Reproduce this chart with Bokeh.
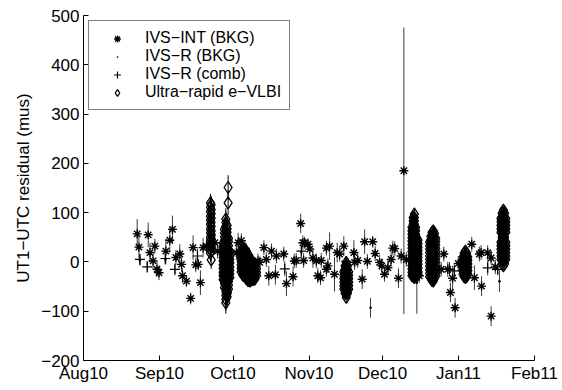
import pandas as pd
from bokeh.plotting import figure
from bokeh.models import Range1d, FixedTicker, Legend, LegendItem, ColumnDataSource, DatetimeTickFormatter
from bokeh.embed import file_html
from bokeh.resources import INLINE

# All "day" values are days counted from this date
BASE_DATE = "2010-08-01"

# ---- IVS-INT (BKG) ----
int_day = [21.9, 22.6, 26.4, 27.1, 29.1, 28.4, 30.0, 30.8, 33.6, 35.2, 36.3, 37.7, 39.3, 40.0, 40.4,
           42.0, 43.7, 44.7, 45.8, 46.8, 47.7, 48.8, 50.2, 53.6, 54.7, 58.7, 62.4, 63.1, 64.4, 66.5,
           71.2, 71.9, 73.6, 74.6, 75.6, 76.7, 78.3, 78.7, 81.7, 82.8, 85.5, 86.0, 86.8, 88.6, 89.5,
           89.8, 90.2, 91.6, 92.3, 93.6, 95.0, 95.6, 96.7, 97.0, 99.1, 100.4, 99.1, 99.7, 102.4, 103.5,
           104.5, 106.2, 110.3, 110.6, 111.9, 113.7, 114.7, 115.8, 118.0, 119.0, 120.8, 121.7, 122.8, 124.2, 125.5,
           126.2, 127.0, 128.5, 129.6, 130.7, 131.7, 134.7, 137.0, 145.9, 147.0, 148.6, 149.7, 150.6, 151.6,
           152.9, 158.4, 159.5, 161.5, 162.2, 162.4, 164.9, 166.3, 166.3, 168.0]
int_val = [57, 30, 55, 19, 32, 2, -15, -22, 22, 44, 66, 9, 16, -5, -28,
           -39, -74, 29, -6, -5, -42, 29, 32, 39, 22, -62, 19, 39, 43, 22,
           2, -1, 29, 5, -28, 22, -26, 12, 16, -44, -30, 2, 3, 78, 39,
           3, 39, 36, 26, 8, 2, -28, -32, 3, 28, 32, -15, -8, -25, 19,
           16, 32, 19, -1, 3, -35, 41, 1, 41, 17, -1, -8, -25, -12, 5,
           28, 27, -33, 12, 185, 5, -25, -28, -15, 16, -15, -62, -33, -93,
           -3, 36, -32, 16, 19, -49, 19, 8, -110, -10]
int_err = [30, 22, 25, 20, 15, 15, 15, 15, 25, 25, 28, 15, 20, 15, 15,
           12, 12, 25, 15, 12, 25, 20, 15, 20, 15, 20, 15, 20, 15, 15,
           15, 12, 15, 15, 20, 15, 20, 15, 15, 25, 20, 15, 15, 20, 15,
           15, 12, 12, 12, 20, 15, 15, 15, 15, 15, 28, 15, 15, 35, 20,
           15, 20, 25, 15, 15, 20, 25, 15, 12, 15, 15, 15, 15, 15, 15,
           15, 15, 20, 15, 291, 15, 15, 15, 15, 15, 15, 20, 25, 20,
           15, 15, 25, 15, 15, 20, 15, 15, 20, 15]

# ---- IVS-R (BKG) ----
rbkg_day = [23.0, 33.4, 88.9, 107.2, 117.1, 136.0, 149.3, 169.7]
rbkg_val = [3, 5, 20, -2, -93, -42, -13, -39]
rbkg_err = [10, 10, 12, 10, 20, 63, 12, 22]

# ---- IVS-R (comb) ----
rcomb_day = [23.0, 26.0, 33.4, 37.3, 46.5, 82.1, 88.9, 107.2, 149.3, 151.3, 164.9, 169.0]
rcomb_val = [5, -10, 7, -15, 12, -14, 22, 1, -15, -18, -12, -15]
rcomb_err = [12, 12, 12, 12, 15, 15, 15, 10, 15, 15, 15, 12]

# ---- Ultra-rapid e-VLBI: one entry per session, grouped in columns of (day, [values]) ----
ur1_days = [51.8, 52.1]
ur1_vals = [[120, 111, 102, 93, 85, 76, 67, 59, 50, 42, 34, 26, 18],
            [116, 106, 98, 89, 80, 72, 63, 55, 46, 38, 30, 22, 4]]
ur1_err = 18

ur2_days = [59.0]
ur2_vals = [[151, 120]]
ur2_err = 25

ur3_days = [56.95, 57.5, 58.05, 58.6, 59.15, 59.7]
ur3_vals = [[38, 31, 23, 16, 9, 2, -6, -13, -21, -28, -36],
            [66, 59, 51, 44, 37, 30, 22, 15, 8, 0, -7, -15, -22, -29, -37, -44, -52],
            [87, 80, 72, 63, 57, 49, 42, 35, 27, 20, 13, 5, -2, -9, -17, -24, -31, -39, -46, -54, -61, -68, -76, -83],
            [74, 67, 60, 52, 45, 38, 31, 23, 16, 9, 1, -6, -13, -21, -28, -35, -43, -50, -57, -65, -71],
            [48, 41, 33, 26, 19, 11, 4, -3, -11, -18, -25, -33, -40, -47, -55],
            [20, 12, 5, -2, -10, -17, -24, -32]]
ur3_err = 22

ur4_days = [64.3, 65.0, 65.7, 66.4, 67.1, 67.8, 68.5, 69.2, 69.9, 70.6]
ur4_vals = [[22, 15, 8, 1, -6, -13, -20],
            [29, 22, 15, 8, 1, -6, -13, -20, -27],
            [27, 20, 13, 6, -1, -8, -15, -22, -29],
            [22, 15, 8, 1, -6, -13, -20, -27, -34],
            [16, 9, 2, -5, -12, -19, -26, -33, -38],
            [10, 3, -4, -11, -18, -25, -32, -39],
            [4, -3, -10, -17, -24, -31, -37],
            [-2, -9, -16, -23, -30, -36],
            [-8, -15, -22, -29, -35],
            [-14, -21, -28]]
ur4_err = 12

ur5_days = [106.2, 106.7, 107.2, 107.7, 108.2]
ur5_vals = [[-20, -27, -34, -41, -48, -55],
            [-8, -15, -22, -29, -36, -43, -50, -57, -64],
            [-1, -8, -15, -22, -29, -36, -43, -50, -57, -64, -72],
            [-8, -15, -22, -29, -36, -43, -50, -57, -64],
            [-20, -27, -34, -41, -48, -55]]
ur5_err = 10

ur6_days = [134.0, 134.5, 135.0, 135.5, 136.0, 136.5]
ur6_vals = [[70, 63, 56, 49, 42, 35, 28, 21, 14, 7, 0, -7, -14, -21, -28],
            [90, 83, 76, 69, 62, 55, 48, 41, 34, 27, 20, 13, 6, -1, -8, -15, -22, -29],
            [97, 90, 83, 76, 69, 62, 55, 48, 41, 34, 27, 20, 13, 6, -1, -8, -15, -22, -29, -32],
            [70, 63, 56, 49, 42, 35, 28, 21, 14, 7, 0, -7, -14, -21, -28],
            [49, 42, 35, 28, 21, 14, 7, 0, -7, -14, -21, -28],
            [44, 37, 30, 23, 16, 9, 2, -5, -12, -19, -26]]
ur6_err = 13

ur7_days = [141.2, 141.7, 142.2, 142.7, 143.2, 143.7]
ur7_vals = [[40, 33, 26, 19, 12, 5, -2, -9, -16, -23, -30],
            [52, 45, 38, 31, 24, 17, 10, 3, -4, -11, -18, -25, -32],
            [60, 53, 46, 39, 32, 25, 18, 11, 4, -3, -10, -17, -24, -31, -38],
            [63, 56, 49, 42, 35, 28, 21, 14, 7, 0, -7, -14, -21, -28, -35, -39],
            [58, 51, 44, 37, 30, 23, 16, 9, 2, -5, -12, -19, -26, -33],
            [48, 41, 34, 27, 20, 13, 6, -1, -8, -15, -22, -29]]
ur7_err = 11

ur8_days = [154.8, 155.3, 155.8, 156.3, 156.8]
ur8_vals = [[10, 3, -4, -11, -18, -25],
            [18, 11, 4, -3, -10, -17, -24, -30],
            [22, 15, 8, 1, -6, -13, -20, -27, -32],
            [18, 11, 4, -3, -10, -17, -24, -30],
            [10, 3, -4, -11, -18, -25]]
ur8_err = 9

ur9_days = [170.3, 170.8, 171.3, 171.8, 172.3]
ur9_vals = [[88, 81, 74, 67, 60, 40, 33, 26, 19, 12, 5],
            [99, 92, 85, 78, 71, 64, 57, 50, 44, 37, 30, 23, 16, 9, 2, -4],
            [105, 98, 91, 84, 77, 70, 63, 56, 50, 43, 36, 29, 22, 15, 8, 1, -8],
            [99, 92, 85, 78, 71, 64, 57, 50, 44, 37, 30, 23, 16, 9, 2, -4],
            [88, 81, 74, 67, 60, 40, 33, 26, 19, 12, 5]]
ur9_err = 9

ur_sessions = [(ur1_days, ur1_vals, ur1_err), (ur2_days, ur2_vals, ur2_err), (ur3_days, ur3_vals, ur3_err),
               (ur4_days, ur4_vals, ur4_err), (ur5_days, ur5_vals, ur5_err), (ur6_days, ur6_vals, ur6_err),
               (ur7_days, ur7_vals, ur7_err), (ur8_days, ur8_vals, ur8_err), (ur9_days, ur9_vals, ur9_err)]

# ---- axes ----
month_ticks = ["2010-08-01", "2010-09-01", "2010-10-01", "2010-11-01", "2010-12-01", "2011-01-01", "2011-02-01"]
month_labels = ["Aug10", "Sep10", "Oct10", "Nov10", "Dec10", "Jan11", "Feb11"]
y_ticks = [-200, -100, 0, 100, 200, 300, 400, 500]
y_labels = ["\u2212200", "\u2212100", "0", "100", "200", "300", "400", "500"]
y_title = "UT1\u2212UTC residual (mus)"
legend_labels = ["IVS\u2212INT (BKG)", "IVS\u2212R (BKG)", "IVS\u2212R (comb)", "Ultra\u2212rapid e\u2212VLBI"]

FONT = "Liberation Sans"
FS = "17px"

base = pd.Timestamp(BASE_DATE)


def make_source(days, vals, errs):
    xs = [base + pd.Timedelta(days=d) for d in days]
    lo = [v - e for v, e in zip(vals, errs)]
    hi = [v + e for v, e in zip(vals, errs)]
    return ColumnDataSource(dict(x=xs, y=vals, lo=lo, hi=hi))


src_int = make_source(int_day, int_val, int_err)
src_rbkg = make_source(rbkg_day, rbkg_val, rbkg_err)
src_rcomb = make_source(rcomb_day, rcomb_val, rcomb_err)

ur_day, ur_val, ur_err = [], [], []
for days, cols, err in ur_sessions:
    for d, col in zip(days, cols):
        for v in col:
            ur_day.append(d)
            ur_val.append(v)
            ur_err.append(err)
src_ur = make_source(ur_day, ur_val, ur_err)

p = figure(frame_width=451, frame_height=345, x_axis_type="datetime",
           x_range=Range1d(pd.Timestamp(month_ticks[0]), pd.Timestamp(month_ticks[-1])),
           y_range=Range1d(y_ticks[0], y_ticks[-1]),
           output_backend="svg", toolbar_location=None,
           min_border_left=83, min_border_right=26, min_border_top=15, min_border_bottom=20)
p.grid.visible = False
p.outline_line_color = None
p.background_fill_color = "white"
p.border_fill_color = "white"

ERR_COLOR = "#3c3c3c"
p.segment(x0="x", y0="lo", x1="x", y1="hi", source=src_int, line_color=ERR_COLOR, line_width=1)
r_int = p.scatter("x", "y", source=src_int, marker="asterisk", size=9, line_color="black", line_width=1.4)
p.segment(x0="x", y0="lo", x1="x", y1="hi", source=src_rbkg, line_color=ERR_COLOR, line_width=1)
r_rbkg = p.scatter("x", "y", source=src_rbkg, marker="dot", size=10, line_color="black", fill_color="black")
p.segment(x0="x", y0="lo", x1="x", y1="hi", source=src_rcomb, line_color=ERR_COLOR, line_width=1)
r_rcomb = p.scatter("x", "y", source=src_rcomb, marker="cross", size=10, line_color="black", line_width=1.2)
p.segment(x0="x", y0="lo", x1="x", y1="hi", source=src_ur, line_color="black", line_width=1)
r_ur = p.scatter("x", "y", source=src_ur, marker="diamond", size=12, line_color="black",
                 fill_color=None, line_width=1.3)

# x axis
tick_ms = [int(pd.Timestamp(t).value // 10**6) for t in month_ticks]
p.xaxis.ticker = FixedTicker(ticks=tick_ms)
fmt = "%b%y"
p.xaxis.formatter = DatetimeTickFormatter(milliseconds=fmt, seconds=fmt, minsec=fmt, minutes=fmt, hourmin=fmt,
                                          hours=fmt, days=fmt, months=fmt, years=fmt)
p.xaxis.major_label_overrides = {ms: lab for ms, lab in zip(tick_ms, month_labels)}
# y axis
p.yaxis.ticker = FixedTicker(ticks=y_ticks)
p.yaxis.major_label_overrides = {t: lab for t, lab in zip(y_ticks, y_labels)}
p.yaxis.axis_label = y_title

for ax in (p.xaxis, p.yaxis):
    ax.major_tick_in = 5
    ax.major_tick_out = 0
    ax.minor_tick_line_color = None
    ax.axis_line_color = "black"
    ax.major_tick_line_color = "black"
    ax.major_label_text_font = FONT
    ax.major_label_text_font_size = FS
    ax.major_label_text_color = "black"
    ax.axis_label_text_font = FONT
    ax.axis_label_text_font_size = FS
    ax.axis_label_text_font_style = "normal"
    ax.axis_label_text_color = "black"
p.xaxis.major_label_standoff = 3
p.yaxis.major_label_standoff = 4
p.yaxis.axis_label_standoff = 5

legend = Legend(items=[LegendItem(label=lab, renderers=[r]) for lab, r in
                       zip(legend_labels, [r_int, r_rbkg, r_rcomb, r_ur])],
                location="top_left", margin=5, padding=8, spacing=0,
                glyph_width=40, glyph_height=17, label_height=17, label_standoff=8,
                border_line_color="black", border_line_width=1, background_fill_alpha=1,
                label_text_font=FONT, label_text_font_size="16px", label_text_color="black")
p.add_layout(legend)

open("out.html", "w").write(file_html(p, INLINE))
